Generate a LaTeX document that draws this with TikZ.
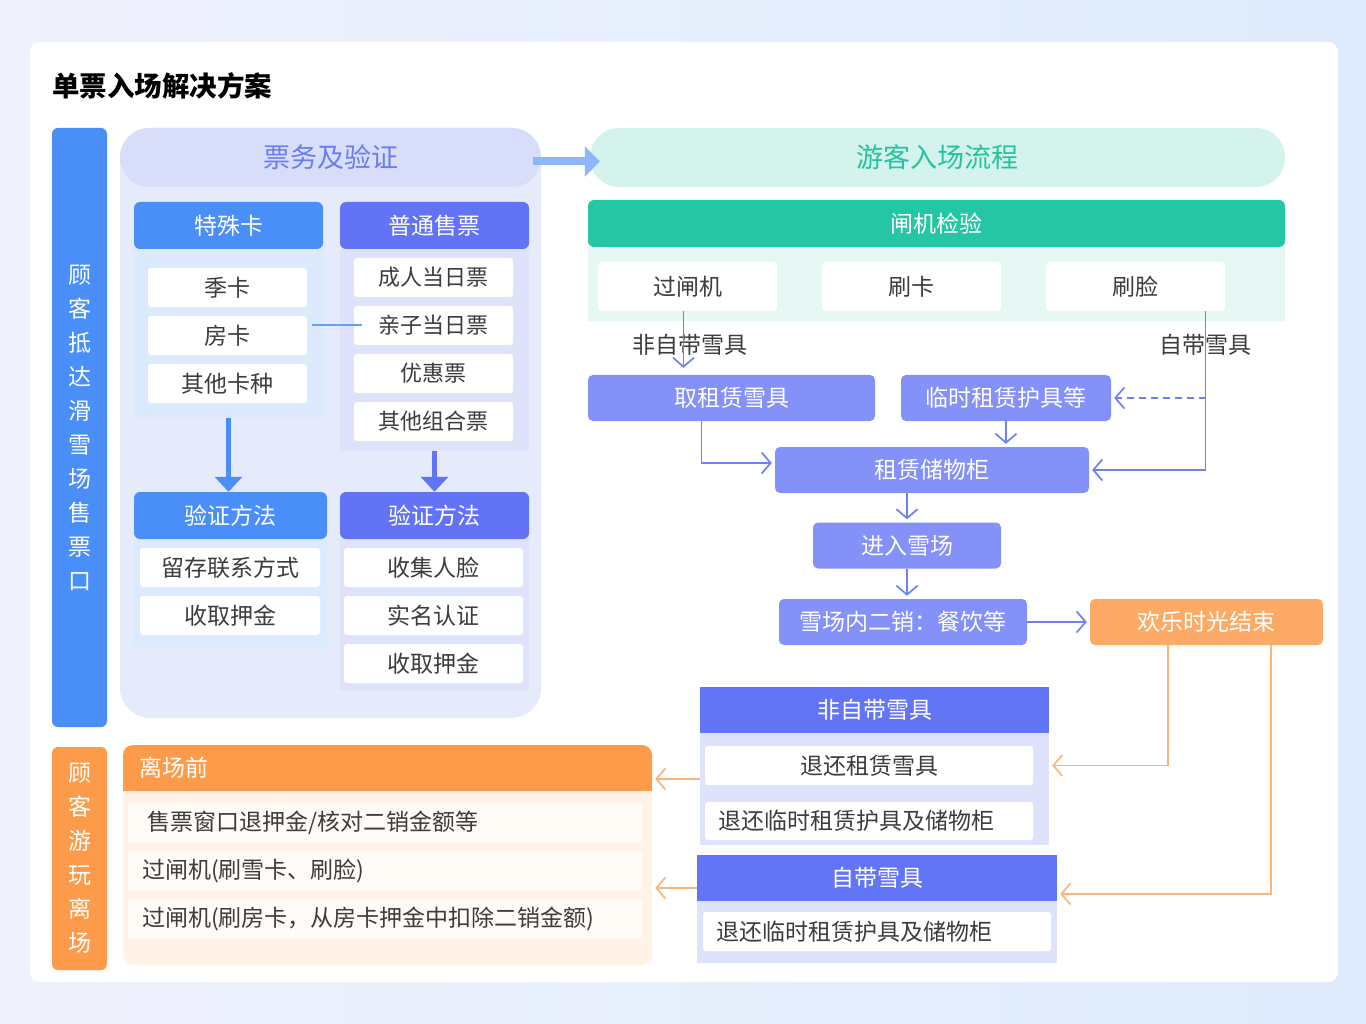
\documentclass[tikz,border=0pt]{standalone}
\usepackage{fontspec}
\setmainfont{Noto Sans CJK SC}
\usetikzlibrary{positioning,arrows.meta}

\definecolor{pagetop}{HTML}{EFF1FC}
\definecolor{pageside}{HTML}{DEEBFC}
\definecolor{cardblue}{HTML}{4A8FF7}
\definecolor{cardfill}{HTML}{DCEAFD}
\definecolor{ticketblue}{HTML}{6373F5}
\definecolor{ticketfill}{HTML}{DEE2FB}
\definecolor{panelfill}{HTML}{E6EBFB}
\definecolor{pillfill}{HTML}{D8DEFA}
\definecolor{pilltext}{HTML}{6B7CF0}
\definecolor{mint}{HTML}{D3F3EC}
\definecolor{minttext}{HTML}{27C2A0}
\definecolor{gategreen}{HTML}{25C6A3}
\definecolor{gatefill}{HTML}{E7F8F4}
\definecolor{flowblue}{HTML}{8391F8}
\definecolor{linkblue}{HTML}{6F80F5}
\definecolor{arrowblue}{HTML}{8DB7F9}
\definecolor{returnblue}{HTML}{6375F7}
\definecolor{leaveorange}{HTML}{FD9B4A}
\definecolor{endorange}{HTML}{FDAA66}
\definecolor{orangeline}{HTML}{FDB47A}
\definecolor{leavefill}{HTML}{FFF3E8}
\definecolor{leaveitem}{HTML}{FFFBF7}
\definecolor{itemgray}{HTML}{3C3C3C}

\begin{document}
\begin{tikzpicture} [x = 1pt, y = -1pt, node distance = 48pt,
    every node/.style = {inner sep = 0pt, text = itemgray},
    cardhead/.style = {rounded corners = 6pt, minimum height = 47pt, text = white, font = \fontsize{23}{23}\selectfont},
    itembox/.style = {fill = white, rounded corners = 3pt, minimum height = 39pt, font = \fontsize{23}{23}\selectfont},
    flowbox/.style = {fill = flowblue, rounded corners = 5pt, minimum height = 46pt, text = white, font = \fontsize{23}{23}\selectfont},
    sidebar/.style = {rounded corners = 6pt, minimum width = 55pt, text = white, align = center, font = \fontsize{23}{34}\selectfont},
    flowlink/.style = {-{Straight Barb[length = 9pt, width = 21pt]}, draw = linkblue, line width = 1.7pt, shorten > = 3pt},
    backlink/.style = {flowlink, draw = orangeline},
    bigdown/.style = {-{Triangle[length = 15pt, width = 27pt]}, line width = 5pt}]

    \shade [left color = pagetop, right color = pageside] (0,0) rectangle (1366,1024);
    \useasboundingbox (0,0) rectangle (1366,1024);
    \fill [white, rounded corners = 10pt] (30,42) rectangle (1338,982);

    \node [anchor = west, text = black, font = \fontsize{27.5}{27.5}\selectfont\bfseries] (title) at (52,86) {单票入场解决方案};

    \node [sidebar, fill = cardblue, minimum height = 599pt] (arrive) at (79.5,427.5) {顾\\客\\抵\\达\\滑\\雪\\场\\售\\票\\口};
    \node [sidebar, fill = leaveorange, minimum height = 223pt] (depart) at (79.5,858.5) {顾\\客\\游\\玩\\离\\场};

    \node [fill = panelfill, rounded corners = 30pt, minimum width = 421pt, minimum height = 590pt] (ticketpanel) at (330.5,423) {};
    \node [fill = pillfill, rounded corners = 29pt, minimum width = 421pt, minimum height = 59pt, text = pilltext, font = \fontsize{27}{27}\selectfont] (ticketpill) at (330.5,157.5) {票务及验证};
    \node [fill = mint, rounded corners = 29pt, minimum width = 695pt, minimum height = 59pt, text = minttext, font = \fontsize{27}{27}\selectfont] (entrypill) at (937.5,157.5) {游客入场流程};
    \draw [-{Triangle[length = 15pt, width = 30pt]}, line width = 8pt, arrowblue, shorten < = -8pt, shorten > = -10pt] ([yshift = -4pt]ticketpill.east) -- ([yshift = -4pt]entrypill.west);

    \node [fill = cardfill, minimum width = 189pt, minimum height = 169pt] (specbody) at (228.5,333.5) {};
    \node [cardhead, fill = cardblue, minimum width = 189pt] (spechead) at (228.5,225.5) {特殊卡};
    \node [itembox, minimum width = 159pt] (season) at (227.5,287.5) {季卡};
    \node [itembox, minimum width = 159pt] (room) [below of = season] {房卡};
    \node [itembox, minimum width = 159pt] (othercard) [below of = room] {其他卡种};

    \node [fill = ticketfill, minimum width = 189pt, minimum height = 202pt] (normbody) at (434.5,350) {};
    \node [cardhead, fill = ticketblue, minimum width = 189pt] (normhead) at (434.5,225.5) {普通售票};
    \node [itembox, minimum width = 159pt, font = \fontsize{22}{22}\selectfont] (adult) at (433.5,277.5) {成人当日票};
    \node [itembox, minimum width = 159pt, font = \fontsize{22}{22}\selectfont] (family) [below of = adult] {亲子当日票};
    \node [itembox, minimum width = 159pt, font = \fontsize{22}{22}\selectfont] (discount) [below of = family] {优惠票};
    \node [itembox, minimum width = 159pt, font = \fontsize{22}{22}\selectfont] (combo) [below of = discount] {其他组合票};

    \draw [cardblue!85, line width = 2pt, shorten < = 5pt, shorten > = -8pt] (room.east |- family) -- (family.west);

    \node [fill = cardfill, minimum width = 193pt, minimum height = 108pt] (specverbody) at (230.5,593) {};
    \node [cardhead, fill = cardblue, minimum width = 193pt] (specver) at (230.5,515.5) {验证方法};
    \node [itembox, minimum width = 180pt] (contact) at (230,567.5) {留存联系方式};
    \node [itembox, minimum width = 180pt] (deposita) [below of = contact] {收取押金};

    \node [fill = ticketfill, minimum width = 189pt, minimum height = 151pt] (normverbody) at (434.5,614.5) {};
    \node [cardhead, fill = ticketblue, minimum width = 189pt] (normver) at (434.5,515.5) {验证方法};
    \node [itembox, minimum width = 179pt] (face) at (433.5,567.5) {收集人脸};
    \node [itembox, minimum width = 179pt] (realname) [below of = face] {实名认证};
    \node [itembox, minimum width = 179pt] (depositb) [below of = realname] {收取押金};

    \draw [bigdown, cardblue] (specbody.south) -- (specbody.south |- specver.north);
    \draw [bigdown, ticketblue] (normbody.south) -- (normbody.south |- normver.north);

    \node [fill = gatefill, minimum width = 697pt, minimum height = 74pt] (gatebody) at (936.5,284) {};
    \node [cardhead, fill = gategreen, minimum width = 697pt] (gate) at (936.5,223.5) {闸机检验};
    \node [itembox, minimum width = 179pt, minimum height = 49pt] (passgate) at (687.5,286.5) {过闸机};
    \node [itembox, minimum width = 179pt, minimum height = 49pt, node distance = 224pt] (swipecard) [right of = passgate] {刷卡};
    \node [itembox, minimum width = 179pt, minimum height = 49pt, node distance = 224pt] (swipeface) [right of = swipecard] {刷脸};

    \node [font = \fontsize{23}{23}\selectfont] (rentlabel) at (690,345) {非自带雪具};
    \node [font = \fontsize{23}{23}\selectfont] (ownlabel) at (1205,345) {自带雪具};

    \node [flowbox, minimum width = 287pt] (takegear) at (731.5,398) {取租赁雪具};
    \node [flowbox, minimum width = 210pt] (tempgear) at (1006,398) {临时租赁护具等};
    \node [flowbox, minimum width = 314pt] (locker) at (932,470) {租赁储物柜};
    \node [flowbox, minimum width = 188pt] (enter) at (907,545.5) {进入雪场};
    \node [flowbox, minimum width = 248pt] (resale) at (903,622) {雪场内二销：餐饮等};
    \node [flowbox, fill = endorange, minimum width = 233pt] (happyend) at (1206.5,622) {欢乐时光结束};

    \draw [flowlink, shorten > = 7pt] ([xshift = -4pt]passgate.south) -- ([xshift = -4pt]passgate.south |- takegear.north);
    \draw [flowlink] ([xshift = 70pt]swipeface.south) |- (locker.east);
    \draw [flowlink, dash pattern = on 7pt off 5pt] ([xshift = 70pt]swipeface.south |- tempgear.east) -- (tempgear.east);
    \draw [flowlink] ([xshift = -30pt]takegear.south) |- ([yshift = 7pt]locker.west);
    \draw [flowlink] (tempgear.south) -- (tempgear.south |- locker.north);
    \draw [flowlink] (locker.south -| enter) -- (enter.north);
    \draw [flowlink] (enter.south) -- (enter.south |- resale.north);
    \draw [flowlink] (resale.east) -- (happyend.west);

    \node [fill = ticketfill, minimum width = 349pt, minimum height = 112pt] (rentbody) at (874.5,789) {};
    \node [cardhead, sharp corners, fill = returnblue, minimum width = 349pt, minimum height = 46pt] (renthead) at (874.5,710) {非自带雪具};
    \node [itembox, minimum width = 328pt] (returngear) at (869,765.5) {退还租赁雪具};
    \node [itembox, text width = 302pt, inner xsep = 13pt, align = left, minimum height = 38pt] (returntempa) at (869,821) {退还临时租赁护具及储物柜};

    \node [fill = ticketfill, minimum width = 360pt, minimum height = 62pt] (ownbody) at (877,932) {};
    \node [cardhead, sharp corners, fill = returnblue, minimum width = 360pt, minimum height = 46pt] (ownhead) at (877,878) {自带雪具};
    \node [itembox, text width = 322pt, inner xsep = 13pt, align = left] (returntempb) at (877,931.5) {退还临时租赁护具及储物柜};

    \draw [backlink] ([xshift = -38.5pt]happyend.south) |- (returngear -| rentbody.east);
    \draw [backlink] ([xshift = 64.5pt]happyend.south) |- ([yshift = -16pt]ownhead.east);

    \node [fill = leavefill, rounded corners = 10pt, minimum width = 529pt, minimum height = 220pt] (leavebody) at (387.5,855) {};
    \fill [leaveorange] ([yshift = -12pt]leavebody.north west) rectangle ([yshift = -46pt]leavebody.north east);
    \node [cardhead, rounded corners = 10pt, fill = leaveorange, text width = 497pt, inner xsep = 16pt, align = left, minimum height = 46pt] (leavehead) at (387.5,768) {离场前};
    \node [itembox, fill = leaveitem, text width = 476pt, inner xsep = 19pt, align = left, minimum height = 40pt] (refund) at (385,823) {售票窗口退押金/核对二销金额等};
    \node [itembox, fill = leaveitem, text width = 486pt, inner xsep = 14pt, align = left, minimum height = 40pt] (gatesnow) [below of = refund] {过闸机(刷雪卡、刷脸)};
    \node [itembox, fill = leaveitem, text width = 486pt, inner xsep = 14pt, align = left, minimum height = 40pt] (gateroom) [below of = gatesnow] {过闸机(刷房卡，从房卡押金中扣除二销金额)};

    \draw [backlink] ([yshift = 10pt]rentbody.west) -- ([yshift = 10pt]rentbody.west -| leavehead.east);
    \draw [backlink] ([yshift = -10pt]ownhead.west) -- ([yshift = -10pt]ownhead.west -| leavebody.east);

\end{tikzpicture}
\end{document}
